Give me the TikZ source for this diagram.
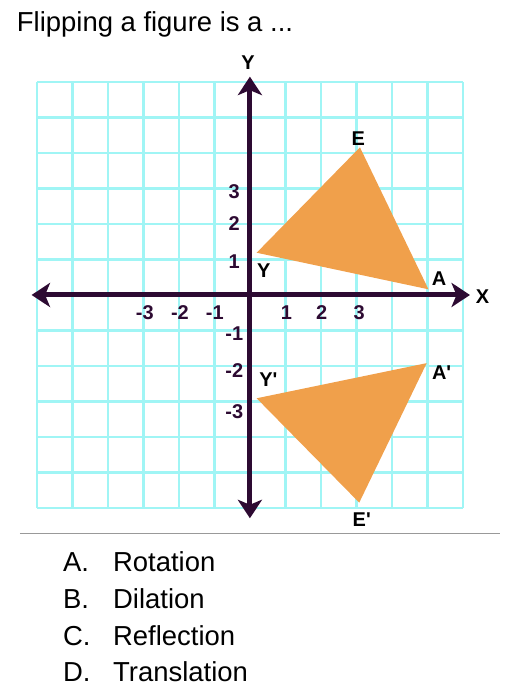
\documentclass[tikz,border=0pt]{standalone}
\usepackage{fontspec}
\setmainfont{Liberation Sans}
\usepackage{xcolor}
\usetikzlibrary{arrows.meta}
\definecolor{gridcyan}{RGB}{160,245,245}
\definecolor{axispurple}{RGB}{45,10,50}
\definecolor{shapeorange}{RGB}{240,160,75}

\begin{document}
\begin{tikzpicture}[
      x=1cm, y=1cm,
      axisline/.style={line width=4pt, draw=axispurple,
                       {Stealth[length=0.52cm, width=0.68cm, inset=0.14cm]}-{Stealth[length=0.52cm, width=0.68cm, inset=0.14cm]}},
      ticklbl/.style={font=\fontsize{16}{17}\selectfont\bfseries, text=axispurple, inner sep=0pt},
      vtx/.style={font=\fontsize{16}{17}\selectfont\bfseries, text=black, inner sep=0pt},
      answer/.style={font=\fontsize{22}{26}\selectfont, anchor=base west, inner sep=0pt}]
    \useasboundingbox (-7.04,-11.41) rectangle (7.72,8.31);
    \node[answer] (title) at (-6.57,7.42) {Flipping a figure is a ...};
    \draw[gridcyan, line width=2pt] (-6,-6) grid (6,6);
    \coordinate (Y)  at (0.19,1.19);
    \coordinate (E)  at (3.10,4.16);
    \coordinate (A)  at (5.03,0.16);
    \coordinate (Yp) at (0.19,-2.91);
    \coordinate (Ap) at (4.98,-1.92);
    \coordinate (Ep) at (3.08,-5.85);
    \fill[shapeorange] (Y) -- (E) -- (A) -- cycle;
    \fill[shapeorange] (Yp) -- (Ap) -- (Ep) -- cycle;
    \coordinate (xl) at (-6.15,0);
    \coordinate (xr) at (6.20,0);
    \coordinate (yb) at (0,-6.29);
    \coordinate (yt) at (0,6.15);
    \draw[axisline] (xl) -- (xr);
    \draw[axisline] (yb) -- (yt);
    \node[vtx] (xname) at (6.55,-0.06) {X};
    \node[vtx] (yname) at (-0.05,6.54) {Y};
    \foreach \i/\p [count=\n] in {-3/-2.96, -2/-1.97, -1/-0.99, 1/1.03, 2/2.02, 3/3.08}
      \node[ticklbl] (xtick\n) at (\p,-0.5) {\i};
    \foreach \i/\p [count=\n] in {3/2.91, 2/2.0, 1/0.93, -1/-1.08, -2/-2.13, -3/-3.3}
      \node[ticklbl] (ytick\n) at (-0.44,\p) {\i};
    \node[vtx] (lblE)  at (3.05,4.41)  {E};
    \node[vtx] (lblY)  at (0.39,0.68)  {Y};
    \node[vtx] (lblA)  at (5.33,0.47)  {A};
    \node[vtx] (lblYp) at (0.52,-2.39) {Y\textquotesingle};
    \node[vtx] (lblAp) at (5.40,-2.20) {A\textquotesingle};
    \node[vtx] (lblEp) at (3.15,-6.34) {E\textquotesingle};
    \coordinate (sepl) at (-6.48,-6.71);
    \coordinate (sepr) at (7.04,-6.71);
    \draw[gray!80, line width=0.8pt] (sepl) -- (sepr);
    \foreach \k/\w [count=\n] in {A/Rotation, B/Dilation, C/Reflection, D/Translation}{
      \node[answer] (opt\k) at (-5.27,{-7.79-1.037*(\n-1)}) {\k.};
      \node[answer] (txt\k) at (-3.86,{-7.79-1.037*(\n-1)}) {\w};
    }
  \end{tikzpicture}
\end{document}
